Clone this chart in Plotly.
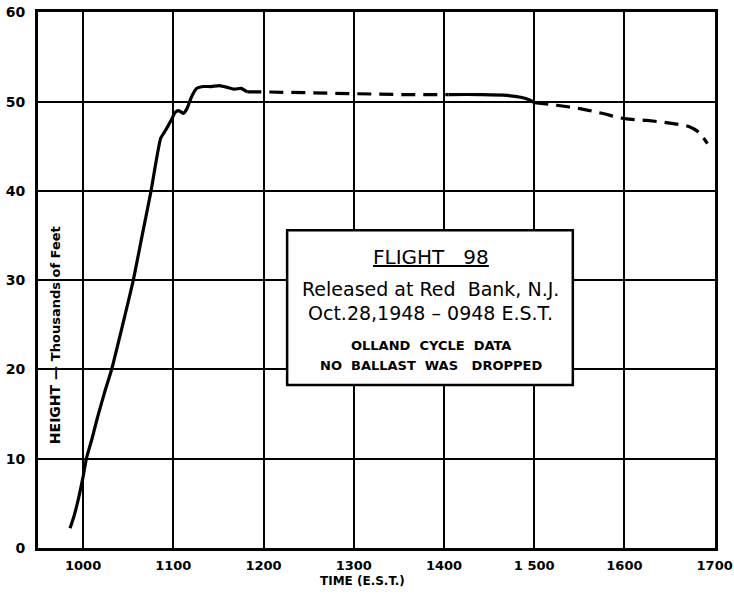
import plotly.graph_objects as go

# Time values in clock-label scale (e.g. 1050 = halfway between 1000 and 1100)
ascent_time = [985.5, 990, 995, 1000, 1003.6, 1010, 1016.4, 1024, 1031.6, 1043.6, 1055.6,
               1065.4, 1075.3, 1086, 1092, 1098, 1102, 1106, 1111, 1115, 1120, 1126, 1133,
               1142, 1151, 1160, 1168, 1175, 1182]
ascent_height = [2.2, 3.6, 5.6, 8.0, 10.0, 12.3, 14.8, 17.5, 20.0, 24.9, 30.0,
                 35.0, 40.0, 45.9, 46.9, 48.0, 48.8, 49.0, 48.7, 49.2, 50.5, 51.5, 51.7,
                 51.7, 51.8, 51.6, 51.4, 51.5, 51.1]

float1_time = [1182, 1200, 1250, 1300, 1350, 1405]
float1_height = [51.1, 51.1, 51.0, 50.9, 50.8, 50.8]

float2_time = [1405, 1440, 1470, 1485, 1495, 1500]
float2_height = [50.8, 50.8, 50.7, 50.5, 50.2, 49.9]

descent_time = [1500, 1525, 1552, 1575, 1600, 1625, 1650, 1672, 1682, 1692]
descent_height = [49.9, 49.6, 49.2, 48.7, 48.1, 47.9, 47.6, 47.2, 46.6, 45.3]

x_ticks = [1000, 1100, 1200, 1300, 1400, 1500, 1600, 1700]
x_tick_labels = ["1000", "1100", "1200", "1300", "1400", "1 500", "1600", "1700"]
y_ticks = [0, 10, 20, 30, 40, 50, 60]
y_tick_labels = ["0", "10", "20", "30", "40", "50", "60"]

box_lines = ["FLIGHT   98", "Released at Red  Bank, N.J.", "Oct.28,1948 – 0948 E.S.T.",
             "OLLAND  CYCLE  DATA", "NO  BALLAST  WAS   DROPPED"]

FONT = "DejaVu Sans"
solid = dict(color="black", width=3.2)
dashed = dict(color="black", width=3.2, dash="14px,8px")

fig = go.Figure()
fig.add_trace(go.Scatter(x=ascent_time, y=ascent_height, mode="lines", line=dict(solid, smoothing=0.5),
                         line_shape="spline"))
fig.add_trace(go.Scatter(x=float1_time, y=float1_height, mode="lines", line=dashed))
fig.add_trace(go.Scatter(x=float2_time, y=float2_height, mode="lines", line=solid, line_shape="spline"))
fig.add_trace(go.Scatter(x=descent_time, y=descent_height, mode="lines", line=dashed, line_shape="spline"))

axis_common = dict(showgrid=True, gridcolor="black", gridwidth=1.5, showline=True,
                   linecolor="black", linewidth=3, mirror=True, zeroline=False, automargin=False,
                   ticks="", ticklabeloverflow="allow")

fig.update_xaxes(range=[950, 1700.4], tickvals=x_ticks, ticktext=x_tick_labels,
                 ticklabelstandoff=3,
                 tickfont=dict(family=FONT, size=13, color="black", weight="bold"), **axis_common)
fig.update_yaxes(range=[0, 60.05], tickvals=y_ticks, ticktext=y_tick_labels,
                 ticklabelstandoff=7,
                 tickfont=dict(family=FONT, size=14, color="black", weight="bold"), **axis_common)

# Legend box
fig.add_shape(type="rect", xref="paper", yref="paper", x0=0.368, x1=0.790, y0=0.304, y1=0.593,
              fillcolor="white", line=dict(color="black", width=2.5), layer="above")

big = dict(family=FONT, size=19, color="black")
title_font = dict(family=FONT, size=20, color="black")
small = dict(family=FONT, size=13, color="black", weight="bold")
ys = [0.542, 0.484, 0.439, 0.378, 0.341]
fonts = [title_font, big, big, small, small]
for i, (txt, yy, f) in enumerate(zip(box_lines, ys, fonts)):
    t = f"<span style='text-decoration:underline'>{txt}</span>" if i == 0 else txt
    fig.add_annotation(text=t, xref="paper", yref="paper", x=0.580, y=yy, showarrow=False,
                       font=f, xanchor="center", yanchor="middle")

fig.add_annotation(text="HEIGHT — <span style='font-size:13px'>Thousands of Feet</span>",
                   xref="paper", yref="paper", x=0.025, y=0.397, textangle=-90,
                   xanchor="center", yanchor="middle",
                   showarrow=False, font=dict(family=FONT, size=14, color="black", weight="bold"))
fig.add_annotation(text="TIME (E.S.T.)", xref="paper", yref="paper", x=0.480, y=-0.045,
                   showarrow=False, yanchor="top",
                   font=dict(family=FONT, size=12, color="black", weight="bold"))

fig.update_layout(width=734, height=598, margin=dict(l=38, r=19, t=12, b=50),
                  plot_bgcolor="white", paper_bgcolor="white", showlegend=False)

fig.write_html("out.html", config={"displayModeBar": False},
               post_script="document.body.style.margin='0';")
